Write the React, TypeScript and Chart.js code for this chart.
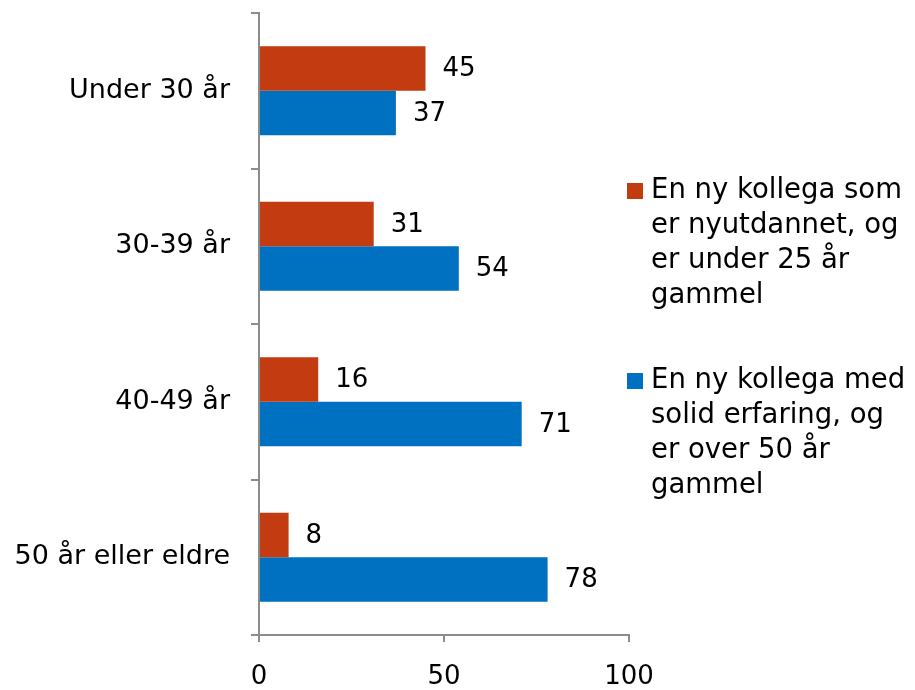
import React, { useEffect, useRef } from "react";
import { Chart, registerables } from "chart.js";

Chart.register(...registerables);

const categories = ["Under 30 år", "30-39 år", "40-49 år", "50 år eller eldre"];
const seriesNewGrad = [45, 31, 16, 8];
const seriesExperienced = [37, 54, 71, 78];
const seriesNames = [
  ["En ny kollega som", "er nyutdannet, og", "er under 25 år", "gammel"],
  ["En ny kollega med", "solid erfaring, og", "er over 50 år", "gammel"],
];
const xTickValues = [0, 50, 100];

const FONT_FAMILY = "'DejaVu Sans', sans-serif";
const RED = "#C33B10";
const BLUE = "#0070C0";
const AXIS = "#8C8C8C";

const dataLabelPlugin = {
  id: "dataLabels",
  afterDatasetsDraw(chart: any) {
    const ctx = chart.ctx;
    ctx.save();
    ctx.font = `26px ${FONT_FAMILY}`;
    ctx.fillStyle = "#000";
    ctx.textAlign = "left";
    ctx.textBaseline = "middle";
    chart.data.datasets.forEach((ds: any, di: number) => {
      const meta = chart.getDatasetMeta(di);
      meta.data.forEach((el: any, i: number) => {
        ctx.fillText(String(ds.data[i]), el.x + 17, el.y + 1);
      });
    });
    ctx.restore();
  },
};

const customLegendPlugin = {
  id: "customLegend",
  afterDraw(chart: any) {
    const ctx = chart.ctx;
    const boxX = 627;
    const textX = 651;
    const firstY = 191;
    const lineH = 35;
    const itemGap = 190;
    ctx.save();
    ctx.font = `27.5px ${FONT_FAMILY}`;
    ctx.textAlign = "left";
    ctx.textBaseline = "middle";
    chart.data.datasets.forEach((ds: any, di: number) => {
      const y0 = firstY + di * itemGap;
      ctx.fillStyle = ds.backgroundColor;
      ctx.fillRect(boxX, y0 - 8, 16, 16);
      ctx.fillStyle = "#000";
      (ds.label as string[]).forEach((line: string, li: number) => {
        ctx.fillText(line, textX, y0 + li * lineH);
      });
    });
    ctx.restore();
  },
};

export default function App() {
  const canvasRef = useRef<HTMLCanvasElement | null>(null);

  useEffect(() => {
    if (!canvasRef.current) return;
    const chart = new Chart(canvasRef.current, {
      type: "bar",
      data: {
        labels: categories,
        datasets: [
          {
            label: seriesNames[0] as any,
            data: seriesNewGrad,
            backgroundColor: RED,
            barPercentage: 1,
            categoryPercentage: 0.572,
          },
          {
            label: seriesNames[1] as any,
            data: seriesExperienced,
            backgroundColor: BLUE,
            barPercentage: 1,
            categoryPercentage: 0.572,
          },
        ],
      },
      options: {
        indexAxis: "y",
        responsive: false,
        animation: false,
        layout: { padding: { top: 13, right: 286, left: 0, bottom: 0 } },
        scales: {
          x: {
            min: 0,
            max: 100,
            afterBuildTicks: (scale: any) => {
              scale.ticks = xTickValues.map((v) => ({ value: v }));
            },
            ticks: { font: { family: FONT_FAMILY, size: 26 }, color: "#000", padding: 20 },
            grid: { drawOnChartArea: false, tickLength: 7, color: AXIS, lineWidth: 2 },
            border: { color: AXIS, width: 2 },
            afterFit: (scale: any) => {
              scale.height = 55;
            },
          },
          y: {
            ticks: { font: { family: FONT_FAMILY, size: 27 }, color: "#000", padding: 21 },
            grid: { drawOnChartArea: false, tickLength: 8, color: AXIS, lineWidth: 2, offset: true },
            border: { color: AXIS, width: 2 },
            afterFit: (scale: any) => {
              scale.width = 259;
              scale.paddingTop = 0;
              scale.paddingBottom = 0;
            },
          },
        },
        plugins: {
          legend: { display: false },
          tooltip: { enabled: false },
        },
      },
      plugins: [dataLabelPlugin, customLegendPlugin],
    } as any);
    return () => chart.destroy();
  }, []);

  return (
    <div style={{ position: "absolute", left: 0, top: 0, width: 915, height: 690, background: "#fff" }}>
      <canvas ref={canvasRef} width={915} height={690} style={{ display: "block" }} />
    </div>
  );
}
